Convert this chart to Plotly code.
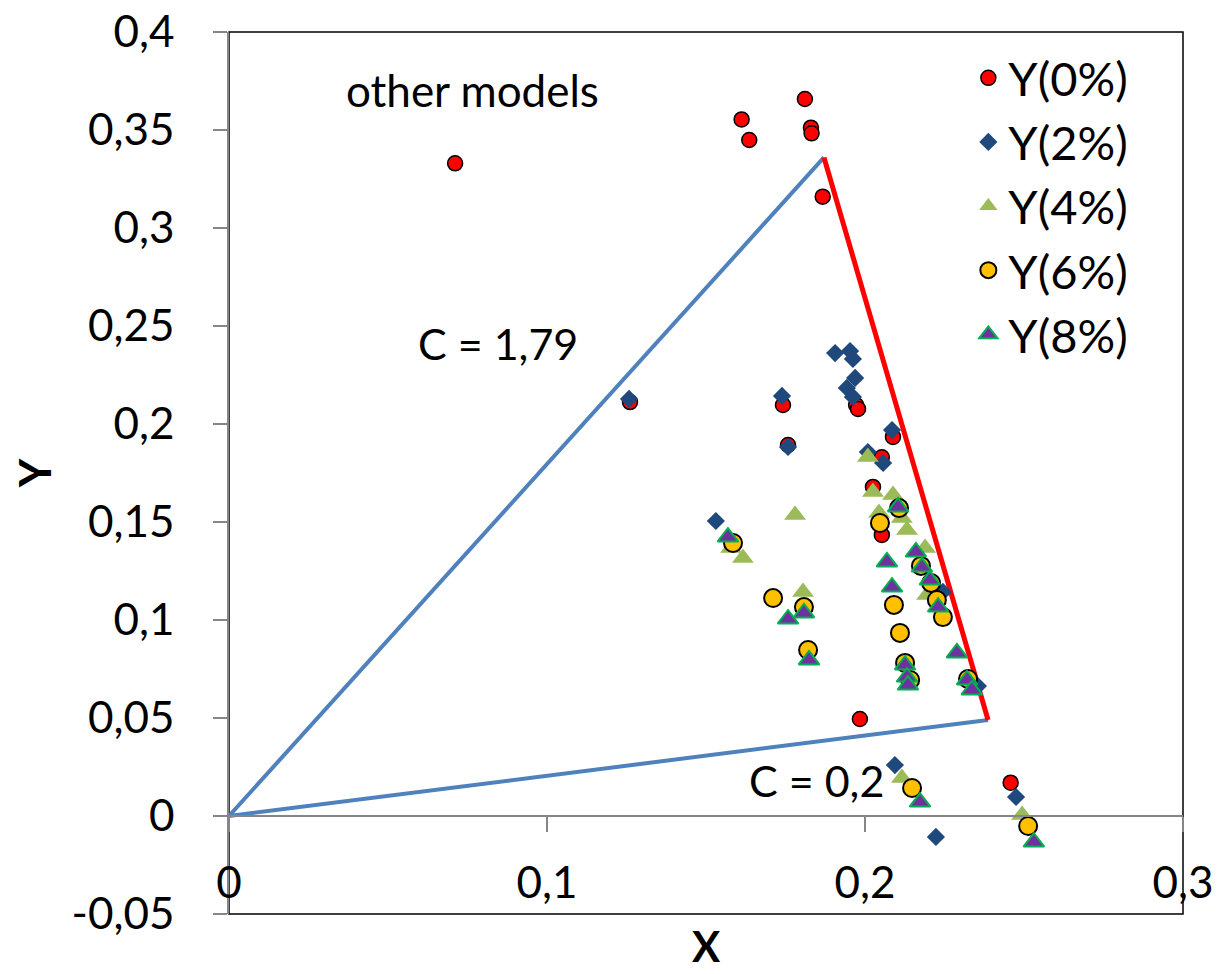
import plotly.graph_objects as go

# ---- data ----
x0 = [0.0711, 0.1612, 0.1636, 0.1811, 0.1830, 0.1832, 0.1867, 0.1261, 0.1742, 0.1758,
      0.1972, 0.1978, 0.2088, 0.2053, 0.2025, 0.2053, 0.1984, 0.2458]
y0 = [0.3330, 0.3554, 0.3449, 0.3658, 0.3512, 0.3483, 0.3160, 0.2112, 0.2097, 0.1893,
      0.2097, 0.2077, 0.1934, 0.1830, 0.1679, 0.1434, 0.0495, 0.0170]

x2 = [0.1258, 0.1739, 0.1758, 0.1906, 0.1953, 0.1962, 0.1969, 0.1943, 0.1962, 0.2085,
      0.2057, 0.2009, 0.1531, 0.2094, 0.2223, 0.2475, 0.2245, 0.2355]
y2 = [0.2128, 0.2143, 0.1883, 0.2362, 0.2372, 0.2332, 0.2235, 0.2184, 0.2138, 0.1969,
      0.1801, 0.1857, 0.1505, 0.0260, -0.0107, 0.0097, 0.1143, 0.0663]

x4 = [0.1616, 0.1579, 0.1780, 0.1805, 0.2009, 0.2025, 0.2088, 0.2116, 0.2132, 0.2044,
      0.2189, 0.2195, 0.2494, 0.2116]
y4 = [0.1316, 0.1367, 0.1536, 0.1143, 0.1832, 0.1653, 0.1638, 0.1520, 0.1459, 0.1546,
      0.1367, 0.1128, 0.0005, 0.0194]

x6 = [0.1585, 0.1711, 0.1808, 0.1821, 0.2047, 0.2107, 0.2091, 0.2110, 0.2126, 0.2142,
      0.2176, 0.2208, 0.2226, 0.2245, 0.2324, 0.2148, 0.2513]
y6 = [0.1393, 0.1112, 0.1066, 0.0847, 0.1495, 0.1571, 0.1077, 0.0934, 0.0781, 0.0694,
      0.1276, 0.1189, 0.1102, 0.1015, 0.0699, 0.0143, -0.0051]

x8 = [0.1569, 0.1758, 0.1808, 0.1824, 0.2104, 0.2069, 0.2085, 0.2126, 0.2132, 0.2135,
      0.2160, 0.2179, 0.2204, 0.2230, 0.2289, 0.2321, 0.2336, 0.2173, 0.2531]
y8 = [0.1423, 0.1005, 0.1036, 0.0796, 0.1577, 0.1296, 0.1168, 0.0770, 0.0709, 0.0668,
      0.1347, 0.1270, 0.1204, 0.1066, 0.0832, 0.0694, 0.0643, 0.0071, -0.0133]

blue_x = [0.2387, 0.0, 0.1871]
blue_y = [0.049, 0.0, 0.336]
red_x = [0.1871, 0.2387]
red_y = [0.336, 0.049]

series_names = ["Y(0%)", "Y(2%)", "Y(4%)", "Y(6%)", "Y(8%)"]

x_tickvals = [0, 0.1, 0.2, 0.3]
x_ticktext = ["0", "0,1", "0,2", "0,3"]
y_tickvals = [-0.05, 0, 0.05, 0.1, 0.15, 0.2, 0.25, 0.3, 0.35, 0.4]
y_ticktext = ["-0,05", "0", "0,05", "0,1", "0,15", "0,2", "0,25", "0,3", "0,35", "0,4"]

FONT = "Lato"
FS = 44

fig = go.Figure()

fig.add_trace(go.Scatter(x=blue_x, y=blue_y, mode="lines",
                         line=dict(color="#4F81BD", width=4), showlegend=False, hoverinfo="skip"))
fig.add_trace(go.Scatter(x=red_x, y=red_y, mode="lines",
                         line=dict(color="#FF0000", width=5), showlegend=False, hoverinfo="skip"))

fig.add_trace(go.Scatter(x=x0, y=y0, mode="markers", name=series_names[0],
                         marker=dict(symbol="circle", size=15, color="#FF0000",
                                     line=dict(color="#000000", width=1.5))))
fig.add_trace(go.Scatter(x=x2, y=y2, mode="markers", name=series_names[1],
                         marker=dict(symbol="diamond", size=14, color="#1F497D",
                                     line=dict(width=0))))
fig.add_trace(go.Scatter(x=x4, y=y4, mode="markers", name=series_names[2],
                         marker=dict(symbol="triangle-up", size=19, color="#9BBB59",
                                     line=dict(width=0))))
fig.add_trace(go.Scatter(x=x6, y=y6, mode="markers", name=series_names[3],
                         marker=dict(symbol="circle", size=18, color="#FFC000",
                                     line=dict(color="#000000", width=2))))
fig.add_trace(go.Scatter(x=x8, y=y8, mode="markers", name=series_names[4],
                         marker=dict(symbol="triangle-up", size=18, color="#7030A0",
                                     line=dict(color="#00B050", width=2))))

# dummy trace to register the overlay axis that draws the y=0 line with ticks
fig.add_trace(go.Scatter(x=[0], y=[0], xaxis="x2", mode="markers",
                         marker=dict(opacity=0), showlegend=False, hoverinfo="skip"))

fig.update_layout(
    width=1221, height=974,
    margin=dict(l=221, r=46, t=24, b=68, autoexpand=False),
    plot_bgcolor="white", paper_bgcolor="white",
    font=dict(family=FONT, size=FS, color="black"),
    showlegend=True,
    legend=dict(x=0.775, y=0.99, xanchor="left", yanchor="top",
                bgcolor="rgba(0,0,0,0)", font=dict(family=FONT, size=47, color="black"),
                itemsizing="trace"),
    xaxis=dict(range=[0, 0.3], tickvals=x_tickvals, ticktext=x_ticktext,
               showgrid=False, zeroline=False, showline=False, ticks="",
               ticklabelposition="inside", ticklabeloverflow="allow",
               ticklabelstandoff=4, automargin=False,
               tickfont=dict(family=FONT, size=FS, color="black"),
               title=dict(text="<b>X</b>", font=dict(family=FONT, size=42, color="black"),
                          standoff=26)),
    xaxis2=dict(range=[0, 0.3], overlaying="x", anchor="free", position=0.05 / 0.45,
                side="bottom", showgrid=False, zeroline=False, showline=True,
                linecolor="#868686", linewidth=1.5, ticks="outside", ticklen=15,
                tickcolor="#868686", tickwidth=1.5, tickvals=x_tickvals,
                showticklabels=False, automargin=False),
    yaxis=dict(range=[-0.05, 0.4], tickvals=y_tickvals, ticktext=y_ticktext,
               showgrid=False, zeroline=False, showline=True, linecolor="#868686",
               linewidth=1.5, ticks="outside", ticklen=14, tickcolor="#868686",
               tickwidth=1.5, tickfont=dict(family=FONT, size=FS, color="black"),
               ticklabeloverflow="allow", ticklabelstandoff=30, automargin=False,
               title=dict(text="<b>Y</b>", font=dict(family=FONT, size=FS, color="black"),
                          standoff=16)),
    shapes=[dict(type="rect", xref="paper", yref="paper", x0=0, y0=0, x1=1, y1=1,
                 line=dict(color="#000000", width=1.5), layer="below")],
    annotations=[
        dict(x=0.0767, y=0.3704, xref="x", yref="y", text="other models", showarrow=False,
             font=dict(family=FONT, size=44, color="black")),
        dict(x=0.0846, y=0.2413, xref="x", yref="y", text="C = 1,79", showarrow=False,
             font=dict(family=FONT, size=43, color="black")),
        dict(x=0.1849, y=0.0179, xref="x", yref="y", text="C = 0,2", showarrow=False,
             font=dict(family=FONT, size=43, color="black")),
    ],
)

fig.write_html("out.html")
